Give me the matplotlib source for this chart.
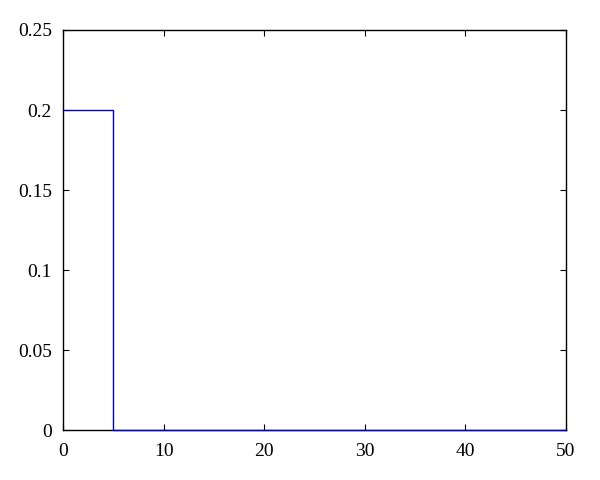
import matplotlib
matplotlib.use("Agg")
import matplotlib.pyplot as plt

# step values: probability mass over lag
x_edges = [0, 5, 5, 50]
y_vals = [0.2, 0.2, 0.0, 0.0]

x_ticks = [0, 10, 20, 30, 40, 50]
y_ticks = [0, 0.05, 0.1, 0.15, 0.2, 0.25]
y_labels = ["0", "0.05", "0.1", "0.15", "0.2", "0.25"]

plt.rcParams['font.family'] = ['Liberation Serif', 'DejaVu Serif']
plt.rcParams['font.size'] = 14

fig = plt.figure(figsize=(6, 4.8), dpi=100)
ax = fig.add_axes([0.105, 0.104, 0.838, 0.8335])

ax.plot(x_edges, y_vals, color="#0000cc", linewidth=1.0, clip_on=False, zorder=3)

ax.set_xlim(0, 50)
ax.set_ylim(0, 0.25)
ax.set_xticks(x_ticks)
ax.set_yticks(y_ticks)
ax.set_yticklabels(y_labels)
ax.tick_params(direction="in", top=True, right=True, length=4, width=0.8)
ax.tick_params(axis="y", pad=8)
ax.tick_params(axis="x", pad=9)
for s in ax.spines.values():
    s.set_linewidth(1.0)

fig.savefig("out.png", dpi=100)
